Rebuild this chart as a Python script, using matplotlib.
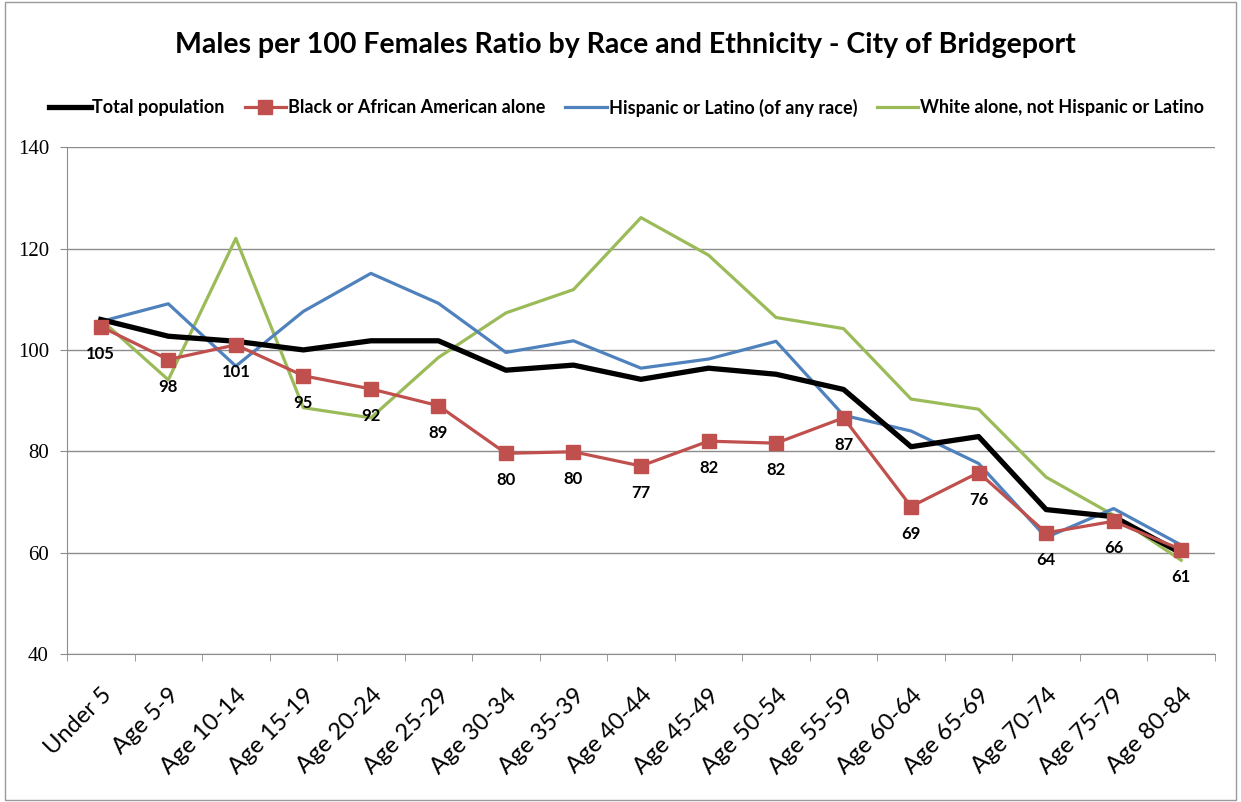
import matplotlib
matplotlib.use("Agg")
import matplotlib.pyplot as plt
from matplotlib.patches import Rectangle

plt.rcParams['font.family'] = ['Lato', 'DejaVu Sans']

# ---- data -----------------------------------------------------------
age_groups = ["Under 5", "Age 5-9", "Age 10-14", "Age 15-19", "Age 20-24",
              "Age 25-29", "Age 30-34", "Age 35-39", "Age 40-44", "Age 45-49",
              "Age 50-54", "Age 55-59", "Age 60-64", "Age 65-69", "Age 70-74",
              "Age 75-79", "Age 80-84"]

total_pop = [106.0, 102.7, 101.7, 100.0, 101.8, 101.8, 96.0, 97.0, 94.2,
             96.4, 95.2, 92.2, 80.9, 82.9, 68.5, 67.1, 59.9]
black_alone = [104.6, 98.1, 101.0, 94.9, 92.3, 89.0, 79.6, 79.9, 77.1,
               82.0, 81.6, 86.6, 69.1, 75.8, 63.9, 66.2, 60.6]
hispanic = [105.6, 109.1, 96.8, 107.6, 115.1, 109.2, 99.5, 101.8, 96.4,
            98.2, 101.7, 87.1, 84.0, 77.6, 63.0, 68.7, 61.5]
white_nh = [106.0, 94.1, 122.0, 88.6, 86.6, 98.5, 107.3, 111.9, 126.1,
            118.7, 106.4, 104.2, 90.3, 88.3, 74.9, 67.4, 58.5]

series_names = ["Total population", "Black or African American alone",
                "Hispanic or Latino (of any race)",
                "White alone, not Hispanic or Latino"]
y_ticks = [40, 60, 80, 100, 120, 140]

# ---- figure ---------------------------------------------------------
fig = plt.figure(figsize=(12.41, 8.02), dpi=100)
ax = fig.add_axes([0.054, 0.1845, 0.925, 0.632])

x = list(range(len(age_groups)))
ax.plot(x, white_nh, color='#9BBB59', lw=2.3, label=series_names[3], zorder=2)
ax.plot(x, hispanic, color='#4F81BD', lw=2.3, label=series_names[2], zorder=3)
ax.plot(x, black_alone, color='#C0504D', lw=2.3, marker='s', ms=10,
        label=series_names[1], zorder=4)
ax.plot(x, total_pop, color='black', lw=3.8, label=series_names[0], zorder=3.5)

# data labels under the red series
for xi, v in zip(x, black_alone):
    ax.annotate(f"{v:.0f}", (xi, v), xytext=(0, -19.5), textcoords='offset points',
                ha='center', va='center', fontsize=12, fontweight='bold')

ax.set_xlim(-0.5, len(age_groups) - 0.5)
ax.set_ylim(40, 140)
ax.set_yticks(y_ticks)
ax.set_yticklabels([str(t) for t in y_ticks], family='Liberation Serif', fontsize=15)
ax.yaxis.grid(True, color='#8c8c8c', lw=1)
ax.set_axisbelow(True)

ax.set_xticks(x)
ax.set_xticklabels(age_groups, rotation=45, ha='right', va='top',
                   rotation_mode='anchor', fontsize=17)
ax.set_xticks([i - 0.5 for i in range(len(age_groups) + 1)], minor=True)
ax.tick_params(axis='x', which='major', length=0, pad=22)
ax.tick_params(axis='x', which='minor', length=5, color='#8c8c8c')
ax.tick_params(axis='y', length=5, color='#8c8c8c', pad=8)

for side in ['top', 'right']:
    ax.spines[side].set_visible(False)
for side in ['left', 'bottom']:
    ax.spines[side].set_color('#8c8c8c')

fig.suptitle("Males per 100 Females Ratio by Race and Ethnicity - City of Bridgeport",
             x=0.504, y=0.944, va='center', fontsize=20.5, fontweight='bold')

handles, labels = ax.get_legend_handles_labels()
order = [3, 2, 1, 0]
fig.legend([handles[i] for i in order], [labels[i] for i in order],
           loc='center', bbox_to_anchor=(0.505, 0.866), ncol=4, frameon=False,
           handlelength=2.3, handletextpad=0.1, columnspacing=1.1,
           prop={'weight': 'bold', 'size': 13})

fig.add_artist(Rectangle((0.004, 0.002), 0.992, 0.996, transform=fig.transFigure,
                         fill=False, edgecolor='#9a9a9a', lw=1))

fig.savefig("out.png", dpi=100)
